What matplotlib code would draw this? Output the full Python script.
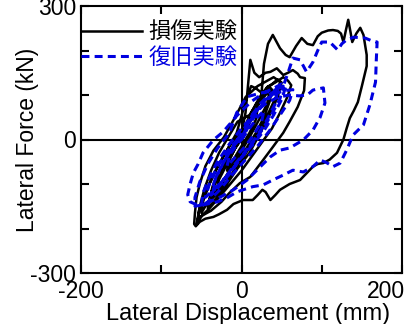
import matplotlib
matplotlib.use('Agg')
import matplotlib.pyplot as plt
from matplotlib.ticker import FixedLocator
from matplotlib.transforms import ScaledTranslation

plt.rcParams['font.family'] = ['Liberation Sans', 'Noto Sans CJK JP', 'DejaVu Sans']
plt.rcParams['axes.unicode_minus'] = False

# ---- data: 損傷実験 (black) cycles, displacement mm / force kN ----
b1_x = [0, 8, 15, 20, 18, 10, 0, -10, -18, -15, -8, 0]
b1_f = [0, 30, 55, 70, 45, 15, -15, -45, -70, -45, -20, 0]
b2_x = [10, 20, 30, 35, 32, 22, 10, 0, -12, -25, -32, -28, -18, -8, 0]
b2_f = [40, 75, 100, 110, 80, 45, 5, -25, -60, -100, -120, -90, -55, -20, 5]
b3_x = [12, 25, 35, 45, 50, 45, 35, 22, 10, -5, -20, -35, -42, -38, -28, -15, 0]
b3_f = [50, 95, 120, 135, 128, 95, 55, 10, -30, -65, -105, -140, -155, -120, -80, -35, 10]
b4_x = [5, 8, 11, 16, 22, 30, 36, 44, 52, 58, 64, 70, 73, 79, 78, 70, 60, 52, 39, 27,
        11, -2, -15, -25, -38, -48, -54, -55, -52, -46, -38, -28, -15, -5]
b4_f = [60, 120, 179, 150, 140, 150, 152, 160, 145, 150, 156, 148, 140, 138, 110, 73, 40, 15, -17, -46,
        -84, -98, -120, -140, -160, -170, -180, -186, -150, -110, -70, -30, 10, 40]
b5_x = [5, 12, 18, 25, 28, 33, 39, 48, 55, 60, 68, 75, 82, 89, 95, 100, 108, 114, 120, 124,
        127, 130, 133, 136, 138, 143, 148, 152, 156, 156, 154, 150, 145, 140, 135, 131, 127, 119,
        110, 102, 95, 89, 80, 73, 60, 48, 42, 36, 30, 26, 20, 14, 2, -10, -18, -28, -35, -45,
        -52, -57, -59, -58, -56, -52, -45, -35, -22]
b5_f = [85, 120, 115, 105, 170, 215, 235, 205, 190, 185, 210, 228, 215, 212, 232, 240, 245, 246, 244, 238,
        219, 245, 269, 240, 219, 238, 251, 235, 190, 165, 150, 120, 84, 65, 48, 25, 0, -30,
        -45, -53, -55, -61, -78, -91, -100, -113, -125, -136, -118, -113, -125, -136, -136, -145, -158, -168, -174, -178,
        -185, -195, -190, -165, -130, -100, -60, -25, 5]
b6_x = [-8, 5, 20, 30, 40, 48, 44, 35, 25, 15, 0, -15, -30, -45, -50, -48, -40, -28, -15, 0]
b6_f = [50, 95, 120, 130, 140, 130, 100, 65, 30, -5, -45, -85, -120, -150, -165, -140, -100, -55, -15, 20]
b7_x = [10, 22, 32, 42, 52, 58, 62, 57, 48, 38, 26, 14, 0, -14, -28, -40, -50, -56, -53, -45, -34, -20, -6]
b7_f = [55, 90, 118, 128, 140, 132, 122, 95, 60, 25, -5, -35, -70, -100, -130, -155, -172, -192, -160, -120, -75, -30, 15]
b8_x = [8, 18, 26, 34, 38, 35, 28, 18, 6, -8, -22, -34, -40, -36, -26, -14, 0]
b8_f = [45, 80, 105, 120, 112, 85, 50, 15, -20, -55, -90, -120, -135, -105, -65, -25, 15]

# ---- data: 復旧実験 (blue) cycles ----
r1_x = [0, 10, 20, 28, 25, 15, 5, -8, -18, -15, -5, 0]
r1_f = [0, 25, 50, 65, 40, 10, -15, -40, -60, -35, -10, 0]
r2_x = [12, 25, 38, 45, 42, 32, 20, 8, -8, -22, -35, -32, -22, -10, 0]
r2_f = [40, 75, 100, 110, 80, 45, 10, -20, -55, -90, -115, -85, -50, -15, 5]
r3_x = [15, 30, 45, 55, 64, 60, 48, 35, 20, 5, -12, -28, -42, -50, -48, -40, -30, -15, 0]
r3_f = [55, 90, 105, 110, 112, 88, 55, 20, -15, -45, -80, -115, -140, -150, -120, -85, -50, -10, 25]
r4_x = [15, 30, 45, 60, 72, 82, 89, 96, 102, 104, 98, 89, 77, 60, 48, 36, 23, 7, -10, -25,
        -40, -52, -58, -58, -52, -42, -30, -15]
r4_f = [60, 80, 95, 100, 98, 100, 111, 114, 116, 82, 50, 21, -1, -19, -24, -39, -62, -91, -113, -128,
        -140, -148, -150, -130, -95, -55, -20, 15]
r5_x = [-6, 7, 23, 40, 52, 58, 64, 73, 81, 89, 95, 100, 110, 115, 120, 125, 131, 140, 154, 162,
        169, 168, 167, 160, 152, 139, 131, 123, 114, 106, 98, 89, 77, 64, 52, 39, 27, 14, 2, -6,
        -18, -30, -48, -58, -64, -67, -64, -60, -54, -48, -35, -23]
r5_f = [60, 96, 104, 110, 120, 150, 183, 179, 152, 174, 200, 219, 219, 210, 201, 215, 224, 230, 228, 222,
        219, 180, 129, 78, 33, 10, -24, -53, -61, -52, -46, -61, -73, -69, -80, -91, -102, -106, -113, -118,
        -131, -140, -147, -145, -140, -124, -100, -75, -55, -30, -1, 17]
r6_x = [-5, 12, 28, 40, 50, 55, 50, 40, 28, 15, 0, -15, -30, -42, -45, -40, -30, -15, 0]
r6_f = [55, 85, 105, 115, 125, 118, 90, 55, 20, -10, -40, -75, -105, -125, -130, -100, -60, -20, 10]
r7_x = [10, 22, 34, 44, 52, 48, 38, 26, 12, -2, -16, -30, -38, -34, -24, -10, 2]
r7_f = [45, 78, 100, 112, 120, 92, 58, 22, -12, -45, -80, -110, -125, -95, -55, -15, 20]

x_ticks = [-200, 0, 200]
x_minor = [-100, 100]
y_ticks = [-300, 0, 300]
y_minor = [-200, -100, 100, 200]
x_label = 'Lateral Displacement (mm)'
y_label = 'Lateral Force (kN)'
legend_labels = ['損傷実験', '復旧実験']

black_x = b1_x + b2_x + b3_x + b8_x + b4_x + b7_x + b5_x + b6_x
black_f = b1_f + b2_f + b3_f + b8_f + b4_f + b7_f + b5_f + b6_f
blue_x = r1_x + r2_x + r3_x + r7_x + r4_x + r5_x + r6_x
blue_f = r1_f + r2_f + r3_f + r7_f + r4_f + r5_f + r6_f

BLUE = '#0000e0'
fig = plt.figure(figsize=(4.13, 3.24), dpi=100)
ax = fig.add_axes([81/413, 1-273/324, 321/413, 267/324])

ax.axhline(0, color='k', lw=1.5, zorder=1)
ax.axvline(0, color='k', lw=1.5, zorder=1)
ax.plot(black_x, black_f, color='k', lw=1.8, label=legend_labels[0], zorder=2)
ax.plot(blue_x, blue_f, color=BLUE, lw=2.2, ls=(0, (2.6, 1.7)), label=legend_labels[1], zorder=3)

ax.set_xlim(-200, 200)
ax.set_ylim(-300, 300)
ax.xaxis.set_major_locator(FixedLocator(x_ticks))
ax.xaxis.set_minor_locator(FixedLocator(x_minor))
ax.yaxis.set_major_locator(FixedLocator(y_ticks))
ax.yaxis.set_minor_locator(FixedLocator(y_minor))
ax.tick_params(which='both', direction='in', top=True, right=True, length=5.8, width=1.5, labelsize=16.5)
ax.tick_params(axis='x', pad=5)
ax.tick_params(axis='y', pad=3.5)
for s in ax.spines.values():
    s.set_linewidth(1.5)

ax.set_xlabel(x_label, fontsize=17)
ax.set_ylabel(y_label, fontsize=16.5)
ax.xaxis.set_label_coords(0.52, -0.112)
ax.yaxis.set_label_coords(-0.131, 0.5)

labels = ax.get_xticklabels()
labels[-1].set_transform(labels[-1].get_transform() + ScaledTranslation(-0.16, 0, fig.dpi_scale_trans))

leg = ax.legend(loc='upper left', bbox_to_anchor=(0, 0.944), frameon=False, borderaxespad=0, borderpad=0,
                handlelength=2.75, handletextpad=0.3, labelspacing=0.1,
                prop={'family': ['Noto Sans CJK JP'], 'size': 16})
for t, c in zip(leg.get_texts(), ['k', BLUE]):
    t.set_color(c)

fig.savefig('out.png', dpi=100)
